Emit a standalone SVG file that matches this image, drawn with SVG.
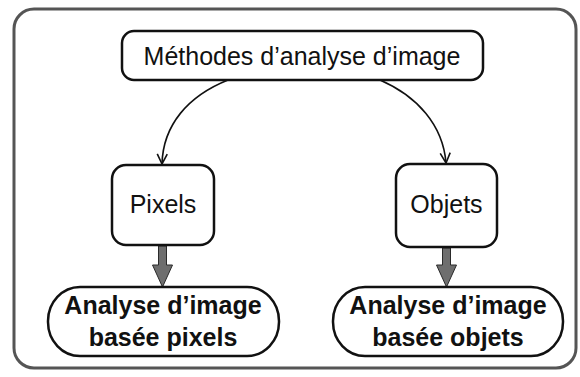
<svg xmlns="http://www.w3.org/2000/svg" width="580" height="377" viewBox="0 0 580 377">
  <defs>
    <style>
      .box { fill: #ffffff; stroke: #111111; stroke-width: 2.5; }
      .label { font-family: "Liberation Sans", Arial, sans-serif; font-size: 25px; fill: #111111; text-anchor: middle; }
      .bold { font-weight: bold; }
      .curve { fill: none; stroke: #111111; stroke-width: 1.6; }
      .thick { fill: #6e6e6e; stroke: #2a2a2a; stroke-width: 1; }
    </style>
    <marker id="vee" markerWidth="14" markerHeight="14" refX="11" refY="6" orient="auto" markerUnits="userSpaceOnUse">
      <path d="M1,1 L11,6 L1,11" fill="none" stroke="#111111" stroke-width="1.6"/>
    </marker>
  </defs>

  <!-- outer frame -->
  <rect x="14" y="9" width="562" height="359" rx="20" ry="20" fill="#ffffff" stroke="#555555" stroke-width="3"/>

  <g id="connectors">
    <path class="curve" d="M228,80 C188,96 163,125 162,164" marker-end="url(#vee)"/>
    <path class="curve" d="M380,80 C417,96 443,125 446,163" marker-end="url(#vee)"/>
    <path class="thick" d="M158.5,246 L166.5,246 L166.5,265 L172.5,265 L162.5,287 L152.5,265 L158.5,265 Z"/>
    <path class="thick" d="M442.5,248 L450.5,248 L450.5,265 L456.5,265 L446.5,287 L436.5,265 L442.5,265 Z"/>
  </g>

  <g id="methodes">
    <rect class="box" x="122" y="31" width="361" height="49" rx="12" ry="12"/>
    <text class="label" x="302" y="65">Méthodes d’analyse d’image</text>
  </g>

  <g id="pixels">
    <rect class="box" x="112" y="165" width="102" height="80" rx="14" ry="14"/>
    <text class="label" x="163" y="213">Pixels</text>
  </g>

  <g id="objets">
    <rect class="box" x="396" y="164" width="101" height="83" rx="14" ry="14"/>
    <text class="label" x="446.5" y="213">Objets</text>
  </g>

  <g id="analyse-pixels">
    <rect class="box" x="48" y="287" width="231" height="69" rx="32" ry="34"/>
    <text class="label bold" x="163" y="314">Analyse d’image</text>
    <text class="label bold" x="163" y="346">basée pixels</text>
  </g>

  <g id="analyse-objets">
    <rect class="box" x="333" y="287" width="230" height="69" rx="32" ry="34"/>
    <text class="label bold" x="448" y="314">Analyse d’image</text>
    <text class="label bold" x="448" y="346">basée objets</text>
  </g>
</svg>
